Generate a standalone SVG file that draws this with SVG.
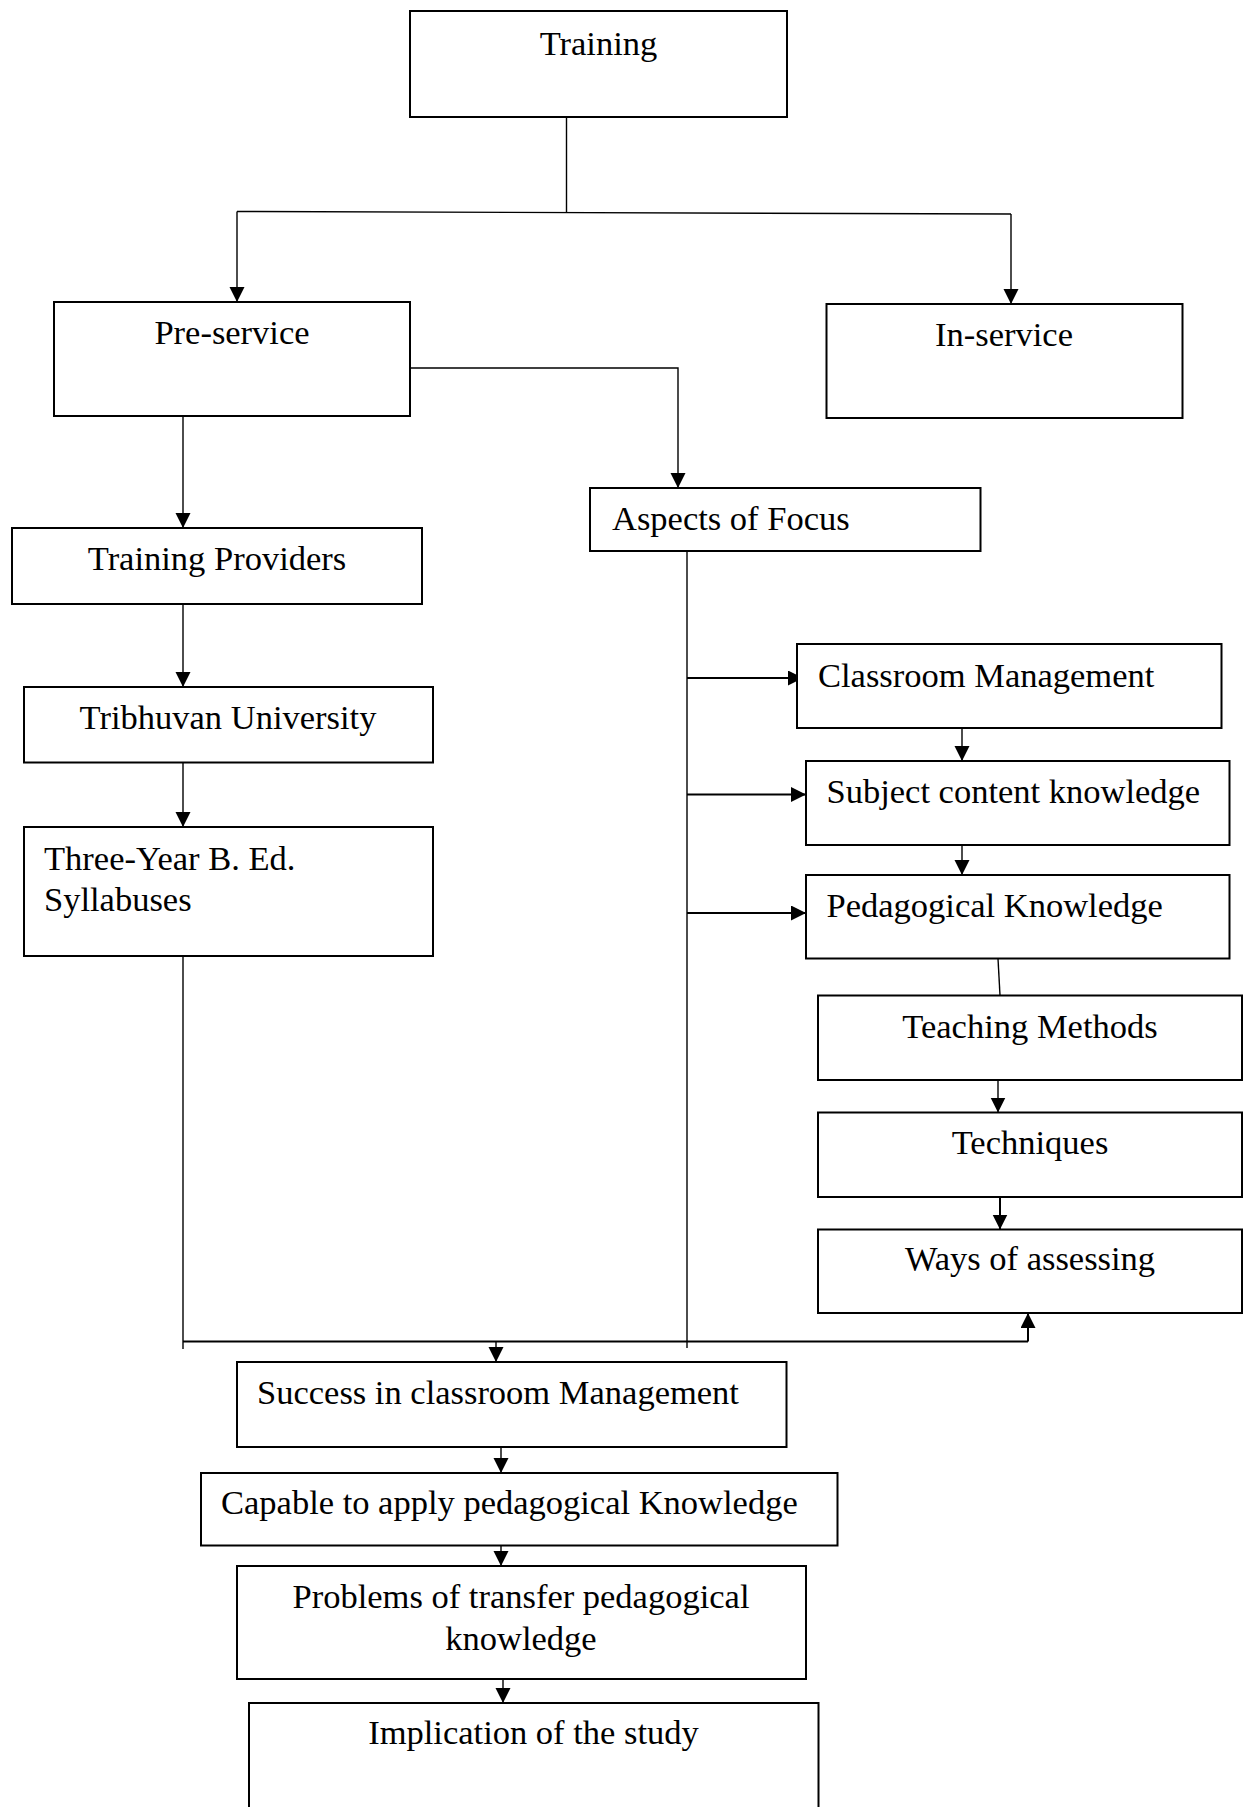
<svg xmlns="http://www.w3.org/2000/svg" width="1251" height="1807" viewBox="0 0 1251 1807">
<style>
.box{fill:#fff;stroke:#000;stroke-width:2}
.t{font-family:"Liberation Serif","Times New Roman",serif;font-size:34.5px;fill:#000}
.c{text-anchor:middle}
.ln{fill:none;stroke:#000;stroke-width:1.4}
.ar{fill:none;stroke:#000;stroke-width:1.4;marker-end:url(#ah)}
.thick{stroke-width:2}
</style>
<defs>
<marker id="ah" markerUnits="userSpaceOnUse" markerWidth="16" markerHeight="16" refX="15" refY="7.5" orient="auto">
<path d="M0,0 L15,7.5 L0,15 z" fill="#000"/>
</marker>
</defs>
<rect width="1251" height="1807" fill="#fff"/>
<g id="connectors">
<path class="ln" d="M566.5,117 V212"/>
<path class="ln" d="M237,211.5 L1011,214"/>
<path class="ar" d="M237,211.5 V302"/>
<path class="ar" d="M1011,214 V304"/>
<path class="ar" d="M410,368 H678 V488"/>
<path class="ar" d="M183,416 V528"/>
<path class="ar" d="M183,604 V687"/>
<path class="ar" d="M183,762 V827"/>
<path class="ln" d="M183,956 V1349"/>
<path class="ln" d="M687,551 V1348"/>
<path class="ar thick" d="M687,678 H803"/>
<path class="ar thick" d="M687,794.5 H806"/>
<path class="ar thick" d="M687,913 H806"/>
<path class="ar" d="M962,728 V761"/>
<path class="ar" d="M962,845 V875"/>
<path class="ln" d="M998,958.5 L1000,995.5"/>
<path class="ar" d="M998,1080 V1112.5"/>
<path class="ar thick" d="M1000,1197 V1229.5"/>
<path class="ln thick" d="M183,1341.5 H1028"/>
<path class="ar thick" d="M1028,1341.5 V1313"/>
<path class="ar" d="M496,1341.5 V1362"/>
<path class="ar" d="M501,1447 V1473"/>
<path class="ar" d="M501,1545.5 V1566"/>
<path class="ar" d="M503,1679 V1703"/>
</g>
<g id="training"><rect class="box" x="410" y="11" width="377" height="106"/><text class="t c" x="598.5" y="55">Training</text></g>
<g id="preservice"><rect class="box" x="54" y="302" width="356" height="114"/><text class="t c" x="232" y="344">Pre-service</text></g>
<g id="inservice"><rect class="box" x="826.5" y="304" width="356" height="114"/><text class="t c" x="1004" y="346">In-service</text></g>
<g id="aspects"><rect class="box" x="590" y="488" width="390.5" height="63"/><text class="t" x="612" y="530">Aspects of Focus</text></g>
<g id="providers"><rect class="box" x="12" y="528" width="410" height="76"/><text class="t c" x="217" y="570">Training Providers</text></g>
<g id="tribhuvan"><rect class="box" x="24" y="687" width="409" height="75.5"/><text class="t c" x="228" y="729">Tribhuvan University</text></g>
<g id="syllabuses"><rect class="box" x="24" y="827" width="409" height="129"/><text class="t" x="44" y="870">Three-Year B. Ed.</text><text class="t" x="44" y="911">Syllabuses</text></g>
<g id="classroom"><rect class="box" x="797" y="644" width="424.5" height="84"/><text class="t" x="818" y="687">Classroom Management</text></g>
<g id="subject"><rect class="box" x="806" y="761" width="423.5" height="84"/><text class="t" x="826.5" y="803">Subject content knowledge</text></g>
<g id="pedagogical"><rect class="box" x="806" y="875" width="423.5" height="83.5"/><text class="t" x="826.5" y="917">Pedagogical Knowledge</text></g>
<g id="methods"><rect class="box" x="818" y="995.5" width="424" height="84.5"/><text class="t c" x="1030" y="1038">Teaching Methods</text></g>
<g id="techniques"><rect class="box" x="818" y="1112.5" width="424" height="84.5"/><text class="t c" x="1030" y="1154">Techniques</text></g>
<g id="ways"><rect class="box" x="818" y="1229.5" width="424" height="83.5"/><text class="t c" x="1030" y="1270">Ways of assessing</text></g>
<g id="success"><rect class="box" x="237" y="1362" width="549.5" height="85"/><text class="t" x="257" y="1404">Success in classroom Management</text></g>
<g id="capable"><rect class="box" x="201" y="1473" width="636.5" height="72.5"/><text class="t" x="221" y="1514">Capable to apply pedagogical Knowledge</text></g>
<g id="problems"><rect class="box" x="237" y="1566" width="569" height="113"/><text class="t c" x="521" y="1608">Problems of transfer pedagogical</text><text class="t c" x="521" y="1650">knowledge</text></g>
<g id="implication"><rect class="box" x="249" y="1703" width="569.5" height="130"/><text class="t c" x="533.5" y="1744">Implication of the study</text></g>
</svg>
